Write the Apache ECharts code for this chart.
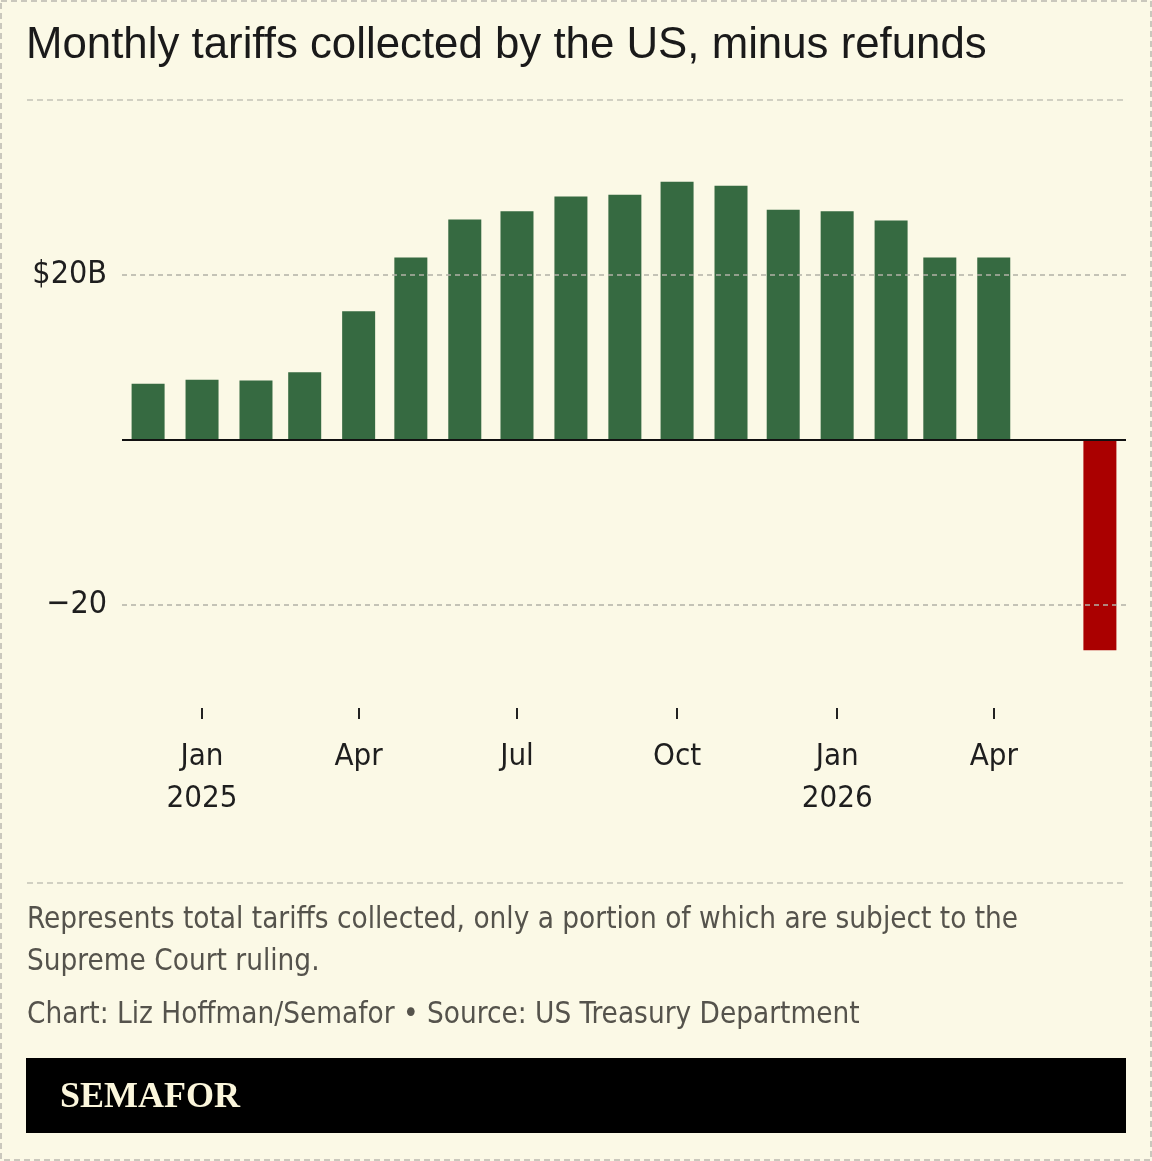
<!DOCTYPE html>
<html>
<head>
<meta charset="utf-8">
<script src="https://cdn.jsdelivr.net/npm/echarts@6/dist/echarts.min.js"></script>
<style>
  html, body { margin: 0; padding: 0; background: #fbf9e6; }
  #chart { width: 1152px; height: 1161px; }
</style>
</head>
<body>
<div id="chart"></div>
<script>
// monthly net tariff receipts, $B
var months = ['2024-12-01', '2025-01-01', '2025-02-01', '2025-03-01', '2025-04-01', '2025-05-01',
    '2025-06-01', '2025-07-01', '2025-08-01', '2025-09-01', '2025-10-01', '2025-11-01',
    '2025-12-01', '2026-01-01', '2026-02-01', '2026-03-01', '2026-04-01', '2026-06-01'];
var values = [6.8, 7.3, 7.2, 8.2, 15.6, 22.1, 26.7, 27.7, 29.5, 29.7, 31.3, 30.8, 27.9, 27.7, 26.6, 22.1, 22.1, -25.5];
var tickDates = ['2025-01-01', '2025-04-01', '2025-07-01', '2025-10-01', '2026-01-01', '2026-04-01'];
var monthNames = ['Jan', 'Feb', 'Mar', 'Apr', 'May', 'Jun', 'Jul', 'Aug', 'Sep', 'Oct', 'Nov', 'Dec'];
var yLabels = [-20, 20];

var condensed = '"Liberation Sans Narrow", "DejaVu Sans Condensed", Roboto, sans-serif';
var gridDash = { color: '#b3b1a6', width: 1.5, type: [5, 4] };

function ts(d) {
    return +new Date(d + 'T00:00:00Z');
}

var barData = [];
for (var i = 0; i < months.length; i++) {
    barData.push([ts(months[i]), values[i]]);
}
var tickValues = tickDates.map(ts);

var myChart = echarts.init(document.getElementById('chart'));
option = {
    backgroundColor: '#fbf9e6',
    animation: false,
    grid: { left: 122, right: 26, top: 100, bottom: 453 },
    xAxis: {
        type: 'value',
        min: ts('2024-11-16'),
        max: ts('2026-06-16'),
        axisLine: { show: false, onZero: false },
        splitLine: { show: false },
        axisTick: { show: true, customValues: tickValues, length: 11, lineStyle: { color: '#222', width: 2 } },
        axisLabel: {
            customValues: tickValues,
            margin: 28,
            fontFamily: condensed,
            fontSize: 31,
            lineHeight: 42,
            color: '#1e1e1e',
            formatter: function (v) {
                var d = new Date(v);
                var m = d.getUTCMonth();
                return m === 0 ? monthNames[m] + '\n' + d.getUTCFullYear() : monthNames[m];
            }
        }
    },
    yAxis: {
        type: 'value',
        min: -32.5,
        max: 41.2,
        axisLine: { show: false },
        axisTick: { show: false },
        splitLine: { show: false },
        axisLabel: {
            customValues: yLabels,
            margin: 15,
            padding: [6, 0, 0, 0],
            fontFamily: condensed,
            fontSize: 32,
            color: '#1e1e1e',
            formatter: function (v) {
                return v > 0 ? '$' + v + 'B' : '\u2212' + Math.abs(v);
            }
        }
    },
    series: [
        {
            // gridlines behind bars
            type: 'line',
            data: [],
            z: 1,
            markLine: {
                silent: true,
                symbol: 'none',
                label: { show: false },
                lineStyle: gridDash,
                data: [{ yAxis: 20 }, { yAxis: -20 }]
            }
        },
        {
            type: 'bar',
            data: barData,
            barWidth: 33,
            z: 3,
            itemStyle: {
                color: function (p) { return p.value[1] < 0 ? '#aa0000' : '#366a41'; }
            },
            markLine: {
                silent: true,
                symbol: 'none',
                label: { show: false },
                lineStyle: { color: '#111', width: 2, type: 'solid' },
                data: [{ yAxis: 0 }]
            }
        }
    ],
    graphic: [
        {
            type: 'rect', shape: { x: 1, y: 1, width: 1150, height: 1159 },
            style: { fill: null, stroke: '#cac8bd', lineWidth: 2, lineDash: [6, 4] }
        },
        {
            type: 'text', left: 26, top: 24,
            style: { text: 'Monthly tariffs collected by the US, minus refunds', font: '43.8px "Liberation Sans", Arial, sans-serif', fill: '#1a1a1a' }
        },
        {
            type: 'line', shape: { x1: 27, y1: 100, x2: 1126, y2: 100 },
            style: { stroke: '#c4c2b7', lineWidth: 1.5, lineDash: [6, 4] }
        },
        {
            type: 'line', shape: { x1: 27, y1: 883, x2: 1126, y2: 883 },
            style: { stroke: '#c4c2b7', lineWidth: 1.5, lineDash: [6, 4] }
        },
        {
            type: 'text', left: 27, top: 899,
            style: {
                text: 'Represents total tariffs collected, only a portion of which are subject to the\nSupreme Court ruling.',
                font: '29.4px ' + condensed, lineHeight: 42, fill: '#55534c'
            }
        },
        {
            type: 'text', left: 27, top: 1001,
            style: { text: 'Chart: Liz Hoffman/Semafor \u2022 Source: US Treasury Department', font: '29.4px ' + condensed, fill: '#55534c' }
        },
        {
            type: 'rect', shape: { x: 26, y: 1058, width: 1100, height: 75 },
            style: { fill: '#000' }
        },
        {
            type: 'text', left: 60, top: 1080,
            style: { text: 'SEMAFOR', font: 'bold 36px "Liberation Serif", "DejaVu Serif", serif', fill: '#fbf6dc' }
        }
    ]
};
myChart.setOption(option);
</script>
</body>
</html>
